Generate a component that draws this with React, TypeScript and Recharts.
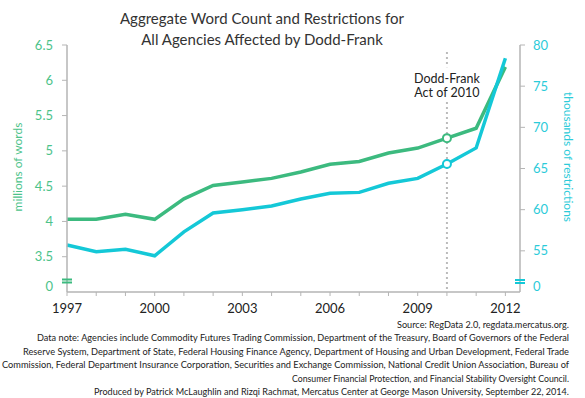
import React from "react";
import {
  LineChart,
  Line,
  XAxis,
  YAxis,
  ReferenceLine,
  ReferenceDot,
} from "recharts";

// values (1997-2012)
const years = [1997, 1998, 1999, 2000, 2001, 2002, 2003, 2004, 2005, 2006, 2007, 2008, 2009, 2010, 2011, 2012];
const wordsMillions = [4.03, 4.03, 4.1, 4.03, 4.32, 4.51, 4.56, 4.61, 4.7, 4.81, 4.85, 4.97, 5.04, 5.18, 5.32, 6.19];
const restrictionsThousands = [55.7, 54.9, 55.2, 54.4, 57.3, 59.6, 60.0, 60.45, 61.3, 62.0, 62.1, 63.2, 63.8, 65.55, 67.5, 78.4];

const yearLabels = [1997, 2000, 2003, 2006, 2009, 2012];
const wordTicks = [3.085, 3.5, 4, 4.5, 5, 5.5, 6, 6.5];
const restrictionTicks = [50.67, 55, 60, 65, 70, 75, 80];
const eventYear = 2010;

const title = ["Aggregate Word Count and Restrictions for", "All Agencies Affected by Dodd-Frank"];
const notes = [
  "Source: RegData 2.0, regdata.mercatus.org.",
  "Data note: Agencies include Commodity Futures Trading Commission, Department of the Treasury, Board of Governors of the Federal",
  "Reserve System, Department of State, Federal Housing Finance Agency, Department of Housing and Urban Development, Federal Trade",
  "Commission, Federal Department Insurance Corporation, Securities and Exchange Commission, National Credit Union Association, Bureau of",
  "Consumer Financial Protection, and Financial Stability Oversight Council.",
  "Produced by Patrick McLaughlin and Rizqi Rachmat, Mercatus Center at George Mason University, September 22, 2014.",
];
const noteWidths = [172, 532, 546, 567, 277, 475];

const data = years.map((year, i) => ({
  year,
  words: wordsMillions[i],
  restrictions: restrictionsThousands[i],
}));

const GREEN = "#3cba7f";
const GREEN_TEXT = "#4cc38a";
const CYAN = "#14c8d7";
const CYAN_TEXT = "#2ccbd9";
const AXIS = "#b5b5b5";
const FONT = "Lato, 'Open Sans', sans-serif";

const LeftTick = (props: any) => {
  const { x, y, payload } = props;
  const axisX = x + 14;
  const isZero = payload.value < 3.2;
  return (
    <g>
      {isZero ? (
        <g stroke={GREEN} strokeWidth={2}>
          <line x1={axisX - 5} x2={axisX + 5} y1={y - 6.5} y2={y - 6.5} />
          <line x1={axisX - 5} x2={axisX + 5} y1={y - 3.5} y2={y - 3.5} />
        </g>
      ) : (
        <line x1={axisX - 5} x2={axisX} y1={y} y2={y} stroke={AXIS} />
      )}
      <text x={x} y={y} dy="0.355em" textAnchor="end" fill={GREEN_TEXT} fontSize={13} fontFamily={FONT}>
        {isZero ? "0" : String(payload.value)}
      </text>
    </g>
  );
};

const RightTick = (props: any) => {
  const { x, y, payload } = props;
  const axisX = x - 13;
  const isZero = payload.value < 51;
  return (
    <g>
      {isZero ? (
        <g stroke={CYAN} strokeWidth={2}>
          <line x1={axisX - 5} x2={axisX + 5} y1={y - 6.5} y2={y - 6.5} />
          <line x1={axisX - 5} x2={axisX + 5} y1={y - 3.5} y2={y - 3.5} />
        </g>
      ) : (
        <line x1={axisX} x2={axisX + 5} y1={y} y2={y} stroke={AXIS} />
      )}
      <text x={x} y={y} dy="0.355em" textAnchor="start" fill={CYAN_TEXT} fontSize={13} fontFamily={FONT}>
        {isZero ? "0" : String(payload.value)}
      </text>
    </g>
  );
};

const eventDot = (color: string) => (props: any) => {
  const { cx, cy, payload, index } = props;
  if (payload.year !== eventYear) return <g key={`d-${index}`} />;
  return <circle key={`d-${index}`} cx={cx} cy={cy} r={4} fill="#fff" stroke={color} strokeWidth={2} />;
};

const EventLabel = (props: any) => {
  const { cx, cy } = props;
  return (
    <g>
      <rect x={cx - 33} y={cy - 18} width={66} height={34} fill="#fff" />
      <text x={cx} y={cy - 7} dy="0.355em" textAnchor="middle" fill="#222" fontSize={12.5} fontFamily={FONT}>
        Dodd-Frank
      </text>
      <text x={cx} y={cy + 7.5} dy="0.355em" textAnchor="middle" fill="#222" fontSize={12.5} fontFamily={FONT}>
        Act of 2010
      </text>
    </g>
  );
};

export default function App() {
  return (
    <div style={{ position: "absolute", left: 0, top: 0, width: 585, height: 398, background: "#fff" }}>
      <LineChart
        width={585}
        height={320}
        data={data}
        margin={{ top: 45, right: 0, bottom: 0, left: 0 }}
      >
        <XAxis
          dataKey="year"
          type="number"
          domain={[1997, 2012.5]}
          ticks={years}
          interval={0}
          height={28}
          tickSize={4}
          tickMargin={8}
          stroke={AXIS}
          axisLine={{ stroke: AXIS, strokeWidth: 1.5 }}
          tick={{ fill: "#222", fontSize: 13, fontFamily: FONT }}
          tickFormatter={(v: number) => (yearLabels.includes(v) ? String(v) : "")}
        />
        <YAxis
          yAxisId="w"
          orientation="left"
          width={67}
          domain={[3, 6.5]}
          ticks={wordTicks}
          interval={0}
          tickSize={5}
          tickMargin={9}
          tickLine={false}
          axisLine={{ stroke: AXIS, strokeWidth: 1.5 }}
          tick={<LeftTick />}
        />
        <YAxis
          yAxisId="r"
          orientation="right"
          width={65}
          domain={[50, 80]}
          ticks={restrictionTicks}
          interval={0}
          tickSize={5}
          tickMargin={8}
          tickLine={false}
          axisLine={{ stroke: AXIS, strokeWidth: 1.5 }}
          tick={<RightTick />}
        />
        <ReferenceLine
          yAxisId="w"
          segment={[
            { x: eventYear, y: 6.4 },
            { x: eventYear, y: 3 },
          ]}
          stroke="#bbbbbb"
          strokeWidth={2}
          strokeDasharray="2 3"
        />
        <ReferenceDot yAxisId="w" x={eventYear} y={5.93} r={0} shape={<EventLabel />} />
        <Line
          yAxisId="w"
          type="linear"
          dataKey="words"
          stroke={GREEN}
          strokeWidth={3.5}
          dot={eventDot(GREEN)}
          activeDot={false}
          isAnimationActive={false}
        />
        <Line
          yAxisId="r"
          type="linear"
          dataKey="restrictions"
          stroke={CYAN}
          strokeWidth={3.5}
          dot={eventDot(CYAN)}
          activeDot={false}
          isAnimationActive={false}
        />
      </LineChart>
      <svg
        width={585}
        height={398}
        style={{ position: "absolute", left: 0, top: 0, pointerEvents: "none" }}
      >
        {title.map((t, i) => (
          <text key={t} x={262} y={24 + i * 21} textAnchor="middle" fill="#333" fontSize={15} fontFamily={FONT}>
            {t}
          </text>
        ))}
        <text
          transform="translate(18,167) rotate(-90)"
          dy="0.355em"
          textAnchor="middle"
          fill={GREEN_TEXT}
          fontSize={12}
          fontFamily={FONT}
        >
          millions of words
        </text>
        <text
          transform="translate(568,157) rotate(90)"
          dy="0.355em"
          textAnchor="middle"
          fill={CYAN_TEXT}
          fontSize={12}
          fontFamily={FONT}
        >
          thousands of restrictions
        </text>
        {notes.map((n, i) => (
          <text
            key={i}
            x={569}
            y={328 + i * 13.4}
            textAnchor="end"
            fill="#222"
            fontSize={9}
            fontFamily={FONT}
            textLength={noteWidths[i]}
            lengthAdjust="spacingAndGlyphs"
          >
            {n}
          </text>
        ))}
      </svg>
    </div>
  );
}
